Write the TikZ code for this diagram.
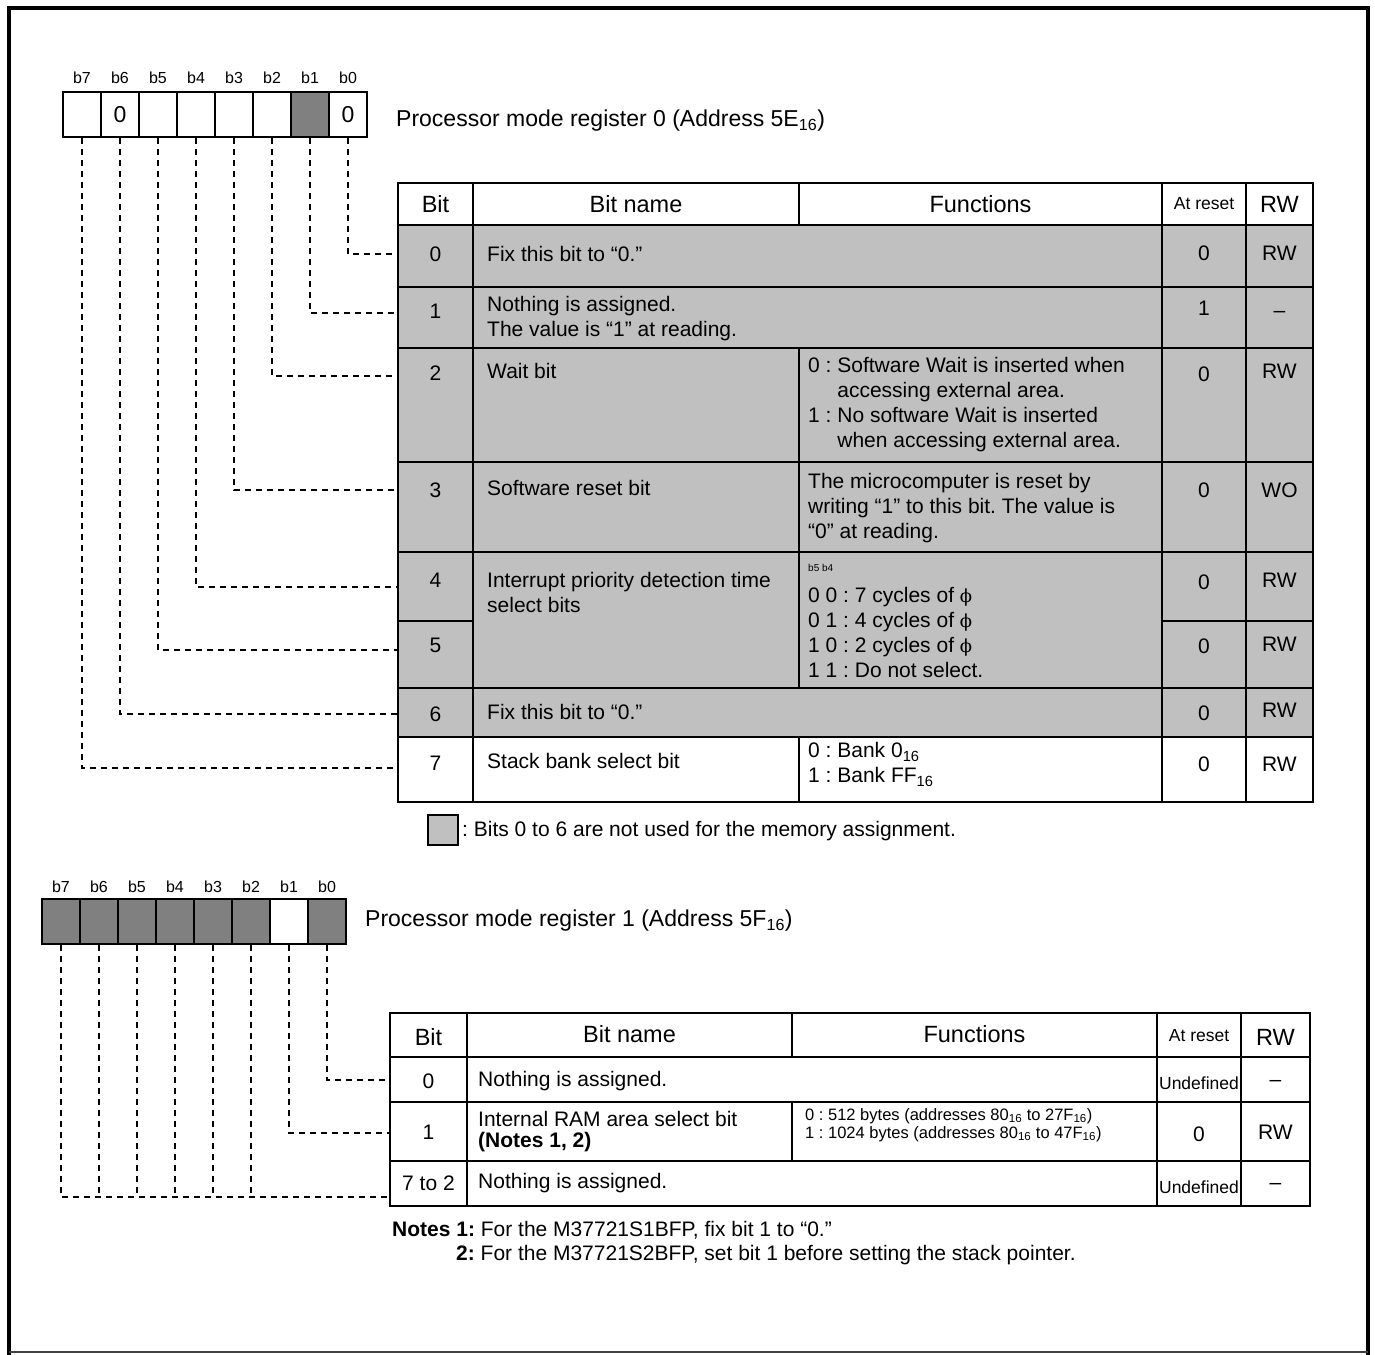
\documentclass[tikz,border=0pt]{standalone}
\usepackage{fontspec}
\setmainfont{Liberation Sans}
\newfontfamily\phifont{DejaVu Serif}
\usepackage{tikz}
\definecolor{regfill}{HTML}{808080}
\definecolor{rowfill}{HTML}{C0C0C0}
\newcommand{\sixteen}{\textsubscript{16}}
\newcommand{\clockphi}{{\phifont\fontsize{18}{20}\selectfont ϕ}}

\begin{document}
\frenchspacing
\begin{tikzpicture}[x=1pt,y=-1pt]
            \tikzstyle{regbit}=[draw, line width=2pt, minimum width=38pt, minimum height=45pt, inner sep=0pt, font=\fontsize{23}{26}\selectfont]
            \tikzstyle{bitlabel}=[inner sep=0pt, font=\fontsize{16}{18}\selectfont]
            \tikzstyle{txt}=[inner sep=0pt, align=left, font=\fontsize{21}{25}\selectfont]
            \tikzstyle{head}=[inner sep=0pt, font=\fontsize{23.5}{26}\selectfont]
            \tikzstyle{small}=[inner sep=0pt, align=left, font=\fontsize{17.5}{19}\selectfont]
            \tikzstyle{grid}=[line width=2pt]
            \tikzstyle{leader}=[line width=2pt, dash pattern=on 6pt off 5pt]

            \useasboundingbox (0,0) rectangle (1375,1354);

            % frame
            \draw[line width=4.5pt] (9,1356) -- (9,8) -- (1368,8) -- (1368,1356);
            \draw[line width=1.5pt, darkgray] (9,1352) -- (1368,1352);

            % register 0
            \node[regbit] (p0b7) at (82,114.5) {};
            \node[regbit] (p0b6) at (120,114.5) {0};
            \node[regbit] (p0b5) at (158,114.5) {};
            \node[regbit] (p0b4) at (196,114.5) {};
            \node[regbit] (p0b3) at (234,114.5) {};
            \node[regbit] (p0b2) at (272,114.5) {};
            \node[regbit, fill=regfill] (p0b1) at (310,114.5) {};
            \node[regbit] (p0b0) at (348,114.5) {0};

            \node[bitlabel] (l0b7) at (82,78) {b7};
            \node[bitlabel] (l0b6) at (120,78) {b6};
            \node[bitlabel] (l0b5) at (158,78) {b5};
            \node[bitlabel] (l0b4) at (196,78) {b4};
            \node[bitlabel] (l0b3) at (234,78) {b3};
            \node[bitlabel] (l0b2) at (272,78) {b2};
            \node[bitlabel] (l0b1) at (310,78) {b1};
            \node[bitlabel] (l0b0) at (348,78) {b0};

            \node[txt, anchor=west, font=\fontsize{23}{26}\selectfont] (title0) at (396,121) {Processor mode register 0 (Address 5E\sixteen)};

            % table 0
            \fill[rowfill] (398,225) rectangle (1313,737);
            \draw[grid] (398,183) rectangle (1313,802);
            \draw[grid] (398,225) -- (1313,225) (398,287) -- (1313,287) (398,348) -- (1313,348)
                        (398,462) -- (1313,462) (398,552) -- (1313,552) (398,688) -- (1313,688)
                        (398,737) -- (1313,737);
            \draw[grid] (398,621) -- (473,621) (1162,621) -- (1313,621);
            \draw[grid] (473,183) -- (473,802) (1162,183) -- (1162,802) (1246,183) -- (1246,802);
            \draw[grid] (799,183) -- (799,225) (799,348) -- (799,688) (799,737) -- (799,802);

            % table 0 heads
            \node[head] (h0bit) at (435.5,204) {Bit};
            \node[head] (h0name) at (636,204) {Bit name};
            \node[head] (h0fn) at (980.5,204) {Functions};
            \node[small] (h0rst) at (1204,204) {At reset};
            \node[head] (h0rw) at (1279.5,204) {RW};

            % table 0 rows
            \node[txt] (n0) at (435.5,254) {0};
            \node[txt, anchor=west] (name0) at (487,254) {Fix this bit to “0.”};
            \node[txt] (rst0) at (1204,253) {0};
            \node[txt] (rw0) at (1279.5,253) {RW};

            \node[txt] (n1) at (435.5,311) {1};
            \node[txt, anchor=west] (name1) at (487,318.5) {Nothing is assigned.\\The value is “1” at reading.};
            \node[txt] (rst1) at (1204,308) {1};
            \node[txt] (rw1) at (1279.5,314) {--};

            \node[txt] (n2) at (435.5,373) {2};
            \node[txt, anchor=west] (name2) at (487,371) {Wait bit};
            \node[txt, anchor=west] (fn2) at (808,405) {0 : Software Wait is inserted when\\\phantom{0 : }accessing external area.\\1 : No software Wait is inserted\\\phantom{1 : }when accessing external area.};
            \node[txt] (rst2) at (1204,374) {0};
            \node[txt] (rw2) at (1279.5,371) {RW};

            \node[txt] (n3) at (435.5,490) {3};
            \node[txt, anchor=west] (name3) at (487,488) {Software reset bit};
            \node[txt, anchor=west] (fn3) at (808,508) {The microcomputer is reset by\\writing “1” to this bit. The value is\\“0” at reading.};
            \node[txt] (rst3) at (1204,490) {0};
            \node[txt] (rw3) at (1279.5,490) {WO};

            \node[txt] (n4) at (435.5,580) {4};
            \node[txt, anchor=west] (name4) at (487,592) {Interrupt priority detection time\\select bits};
            \node[inner sep=0pt, anchor=west, font=\fontsize{10}{12}\selectfont] (fn4head) at (808,568) {b5 b4};
            \node[txt, anchor=west] (fn4) at (808,632.5) {0 0 : 7 cycles of \clockphi\\0 1 : 4 cycles of \clockphi\\1 0 : 2 cycles of \clockphi\\1 1 : Do not select.};
            \node[txt] (rst4) at (1204,582) {0};
            \node[txt] (rw4) at (1279.5,580) {RW};

            \node[txt] (n5) at (435.5,645) {5};
            \node[txt] (rst5) at (1204,646) {0};
            \node[txt] (rw5) at (1279.5,644) {RW};

            \node[txt] (n6) at (435.5,714) {6};
            \node[txt, anchor=west] (name6) at (487,712) {Fix this bit to “0.”};
            \node[txt] (rst6) at (1204,713) {0};
            \node[txt] (rw6) at (1279.5,710) {RW};

            \node[txt] (n7) at (435.5,763) {7};
            \node[txt, anchor=west] (name7) at (487,761) {Stack bank select bit};
            \node[txt, anchor=west] (fn7) at (808,764.5) {0 : Bank 0\sixteen\\1 : Bank FF\sixteen};
            \node[txt] (rst7) at (1204,764) {0};
            \node[txt] (rw7) at (1279.5,764) {RW};

            % table 0 entry points
            \coordinate (t0r0) at (398,254);
            \coordinate (t0r1) at (398,313);
            \coordinate (t0r2) at (398,376);
            \coordinate (t0r3) at (398,490);
            \coordinate (t0r4) at (398,587);
            \coordinate (t0r5) at (398,650);
            \coordinate (t0r6) at (398,714);
            \coordinate (t0r7) at (398,768);

            % register 0 leaders
            \draw[leader] (p0b0.south) |- (t0r0);
            \draw[leader] (p0b1.south) |- (t0r1);
            \draw[leader] (p0b2.south) |- (t0r2);
            \draw[leader] (p0b3.south) |- (t0r3);
            \draw[leader] (p0b4.south) |- (t0r4);
            \draw[leader] (p0b5.south) |- (t0r5);
            \draw[leader] (p0b6.south) |- (t0r6);
            \draw[leader] (p0b7.south) |- (t0r7);

            % key
            \node[draw, fill=rowfill, line width=1.5pt, minimum size=30pt, inner sep=0pt] (key) at (443,830) {};
            \node[txt, anchor=west] (keytext) at (462,831) {: Bits 0 to 6 are not used for the memory assignment.};

            % register 1
            \node[regbit, fill=regfill] (p1b7) at (61,921.5) {};
            \node[regbit, fill=regfill] (p1b6) at (99,921.5) {};
            \node[regbit, fill=regfill] (p1b5) at (137,921.5) {};
            \node[regbit, fill=regfill] (p1b4) at (175,921.5) {};
            \node[regbit, fill=regfill] (p1b3) at (213,921.5) {};
            \node[regbit, fill=regfill] (p1b2) at (251,921.5) {};
            \node[regbit] (p1b1) at (289,921.5) {};
            \node[regbit, fill=regfill] (p1b0) at (327,921.5) {};

            \node[bitlabel] (l1b7) at (61,887) {b7};
            \node[bitlabel] (l1b6) at (99,887) {b6};
            \node[bitlabel] (l1b5) at (137,887) {b5};
            \node[bitlabel] (l1b4) at (175,887) {b4};
            \node[bitlabel] (l1b3) at (213,887) {b3};
            \node[bitlabel] (l1b2) at (251,887) {b2};
            \node[bitlabel] (l1b1) at (289,887) {b1};
            \node[bitlabel] (l1b0) at (327,887) {b0};

            \node[txt, anchor=west, font=\fontsize{23}{26}\selectfont] (title1) at (365,921) {Processor mode register 1 (Address 5F\sixteen)};

            % table 1
            \draw[grid] (390,1013) rectangle (1310,1206);
            \draw[grid] (390,1057) -- (1310,1057) (390,1102) -- (1310,1102) (390,1161) -- (1310,1161);
            \draw[grid] (467,1013) -- (467,1206) (1157,1013) -- (1157,1206) (1241,1013) -- (1241,1206);
            \draw[grid] (792,1013) -- (792,1057) (792,1102) -- (792,1161);

            \node[head] (h1bit) at (428.5,1037) {Bit};
            \node[head] (h1name) at (629.5,1034) {Bit name};
            \node[head] (h1fn) at (974.5,1034) {Functions};
            \node[small] (h1rst) at (1199,1036) {At reset};
            \node[head] (h1rw) at (1275.5,1037) {RW};

            \node[txt] (m0) at (428.5,1081) {0};
            \node[txt, anchor=west] (mname0) at (478,1081) {Nothing is assigned.};
            \node[small] (mrst0) at (1199,1083) {Undefined};
            \node[txt] (mrw0) at (1275.5,1083) {--};

            \node[txt] (m1) at (428.5,1132) {1};
            \node[txt, anchor=west, font=\fontsize{21}{21}\selectfont] (mname1) at (478,1131.5) {Internal RAM area select bit\\\textbf{(Notes 1, 2)}};
            \node[small, anchor=west, font=\fontsize{16.5}{18}\selectfont] (mfn1) at (805,1125) {0 : 512 bytes (addresses 80\sixteen\ to 27F\sixteen)\\1 : 1024 bytes (addresses 80\sixteen\ to 47F\sixteen)};
            \node[txt] (mrst1) at (1199,1134) {0};
            \node[txt] (mrw1) at (1275.5,1132) {RW};

            \node[txt] (m2) at (428.5,1183) {7 to 2};
            \node[txt, anchor=west] (mname2) at (478,1183) {Nothing is assigned.};
            \node[small] (mrst2) at (1199,1187) {Undefined};
            \node[txt] (mrw2) at (1275.5,1186) {--};

            % table 1 entry points
            \coordinate (t1r0) at (390,1080);
            \coordinate (t1r1) at (390,1133);
            \coordinate (t1r2) at (390,1197);

            % register 1 leaders
            \draw[leader] (p1b0.south) |- (t1r0);
            \draw[leader] (p1b1.south) |- (t1r1);
            \draw[leader] (p1b7.south) |- (t1r2);
            \draw[leader] (p1b6.south) -- (p1b6.south |- t1r2);
            \draw[leader] (p1b5.south) -- (p1b5.south |- t1r2);
            \draw[leader] (p1b4.south) -- (p1b4.south |- t1r2);
            \draw[leader] (p1b3.south) -- (p1b3.south |- t1r2);
            \draw[leader] (p1b2.south) -- (p1b2.south |- t1r2);

            % notes
            \node[txt, anchor=west] (note1) at (392,1230) {\textbf{Notes 1:} For the M37721S1BFP, fix bit 1 to “0.”};
            \node[txt, anchor=west] (note2) at (456,1255) {\textbf{2:} For the M37721S2BFP, set bit 1 before setting the stack pointer.};
        \end{tikzpicture}
\end{document}
